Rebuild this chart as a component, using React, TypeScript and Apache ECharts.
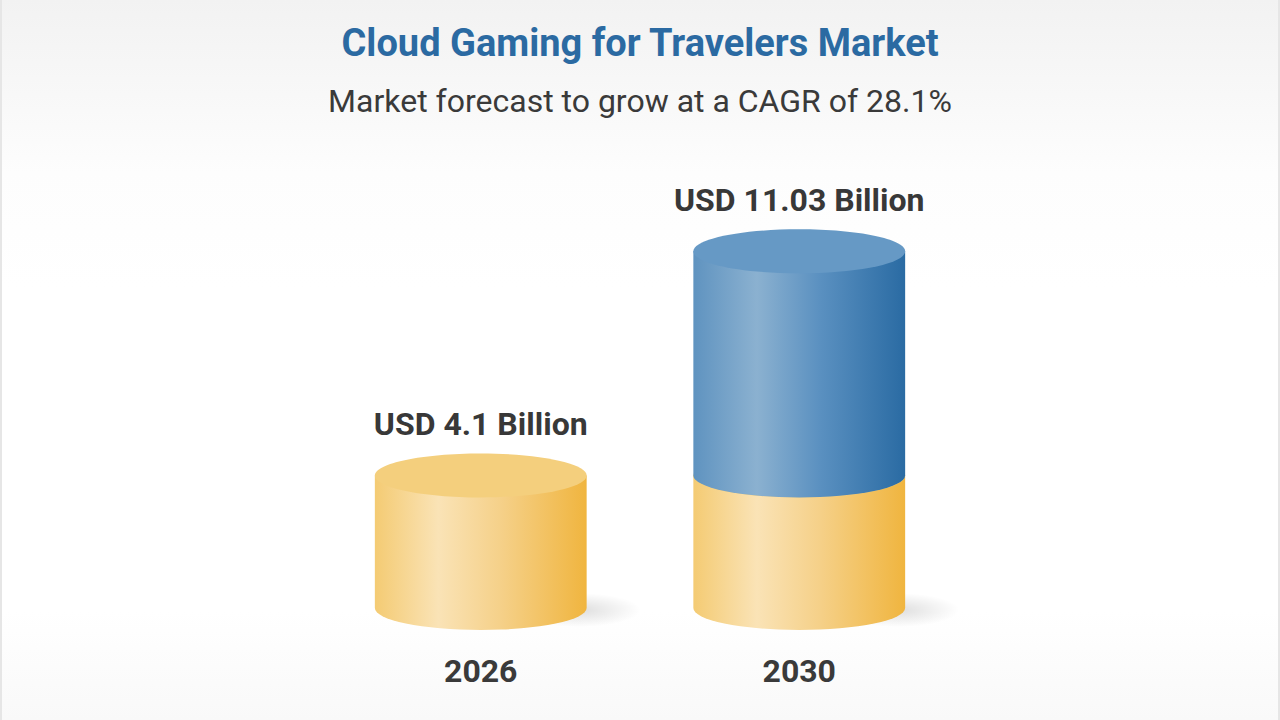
import React, { useEffect, useRef } from "react";
import * as echarts from "echarts";

const titleText = "Cloud Gaming for Travelers Market";
const subtitleText = "Market forecast to grow at a CAGR of 28.1%";
const categories = ["2026", "2030"];
const baseValues = [4.1, 4.1];
const growthValues = [0, 6.93];
const valueLabels = ["USD 4.1 Billion", "USD 11.03 Billion"];

const FONT = "Roboto, 'Noto Sans', sans-serif";

function hGrad(stops: [number, string][]) {
  return {
    type: "linear",
    x: 0,
    y: 0,
    x2: 1,
    y2: 0,
    colorStops: stops.map(([offset, color]) => ({ offset, color })),
  };
}

const yellowBody = hGrad([
  [0, "#f4cb73"],
  [0.3, "#fae3b6"],
  [0.6, "#f5d088"],
  [1, "#f0b53f"],
]);
const blueBody = hGrad([
  [0, "#5f93c0"],
  [0.3, "#8bb1d0"],
  [0.6, "#5a90c0"],
  [1, "#2a6ba3"],
]);
const yellowTop = "#f4cf7d";
const blueTop = "#6699c5";

function makeRenderItem(kind: "base" | "growth") {
  return (params: any, api: any) => {
    const idx = api.value(0);
    const lo = api.value(1);
    const hi = api.value(2);
    if (!(hi > lo)) return null;
    const pLo = api.coord([idx, lo]);
    const pHi = api.coord([idx, hi]);
    const band = api.size([1, 0])[0];
    const rx = (band * 0.665) / 2;
    const ry = 22;
    const cx = pLo[0];
    const yLo = pLo[1];
    const yHi = pHi[1];
    const children: any[] = [];
    if (kind === "base") {
      children.push({
        type: "ellipse",
        shape: { cx: cx + rx - 8, cy: yLo + 2, rx: 62, ry: 17 },
        style: {
          fill: {
            type: "radial",
            x: 0.5,
            y: 0.5,
            r: 0.5,
            colorStops: [
              { offset: 0, color: "rgba(0,0,0,0.13)" },
              { offset: 1, color: "rgba(0,0,0,0)" },
            ],
          },
        },
      });
    }
    const d =
      `M ${cx - rx} ${yHi} L ${cx - rx} ${yLo} ` +
      `A ${rx} ${ry} 0 0 0 ${cx + rx} ${yLo} L ${cx + rx} ${yHi} Z`;
    children.push({
      type: "path",
      shape: { pathData: d },
      style: { fill: kind === "base" ? yellowBody : blueBody },
    });
    children.push({
      type: "ellipse",
      shape: { cx, cy: yHi, rx, ry },
      style: { fill: kind === "base" ? yellowTop : blueTop },
    });
    const isTop = kind === "growth" || !(growthValues[idx] > 0);
    if (isTop) {
      children.push({
        type: "text",
        x: cx,
        y: yHi - ry - 29,
        style: {
          text: valueLabels[idx],
          textAlign: "center",
          textVerticalAlign: "middle",
          fontSize: 32,
          fontWeight: "bold",
          fontFamily: FONT,
          fill: "#383838",
        },
      });
    }
    return { type: "group", children };
  };
}

export default function App() {
  const ref = useRef<HTMLDivElement>(null);
  useEffect(() => {
    if (!ref.current) return;
    const chart = echarts.init(ref.current, null, { renderer: "svg" });
    const baseData = categories.map((_, i) => [i, 0, baseValues[i]]);
    const growthData = categories.map((_, i) => [
      i,
      baseValues[i],
      baseValues[i] + growthValues[i],
    ]);
    chart.setOption({
      animation: false,
      title: {
        text: titleText,
        subtext: subtitleText,
        left: "center",
        top: 19,
        itemGap: 23,
        textStyle: {
          fontFamily: FONT,
          fontSize: 38,
          fontWeight: "bold",
          color: "#2b6aa2",
        },
        subtextStyle: {
          fontFamily: FONT,
          fontSize: 32,
          color: "#3a3a3a",
        },
      },
      grid: { left: 319.5, right: 319.5, top: 220, height: 388 },
      xAxis: {
        type: "category",
        data: categories,
        axisLine: { show: false },
        axisTick: { show: false },
        axisLabel: {
          margin: 47,
          fontFamily: FONT,
          fontSize: 32,
          fontWeight: "bold",
          color: "#3a3a3a",
        },
      },
      yAxis: {
        type: "value",
        min: 0,
        max: 12,
        show: false,
        splitLine: { show: false },
      },
      series: [
        {
          type: "custom",
          renderItem: makeRenderItem("base"),
          data: baseData,
          encode: { x: 0, y: [1, 2] },
          z: 2,
        },
        {
          type: "custom",
          renderItem: makeRenderItem("growth"),
          data: growthData,
          encode: { x: 0, y: [1, 2] },
          z: 3,
        },
      ],
    });
    return () => chart.dispose();
  }, []);
  return (
    <div
      style={{
        position: "fixed",
        left: 0,
        top: 0,
        width: 1280,
        height: 720,
        boxSizing: "border-box",
        borderLeft: "2px solid #e6e6e6",
        borderRight: "2px solid #e6e6e6",
        background:
          "linear-gradient(to bottom, #f2f2f2 0%, #fdfdfd 24%, #ffffff 40%, #ffffff 85%, #f9f9f9 100%)",
      }}
    >
      <div ref={ref} style={{ width: 1276, height: 720 }} />
    </div>
  );
}
